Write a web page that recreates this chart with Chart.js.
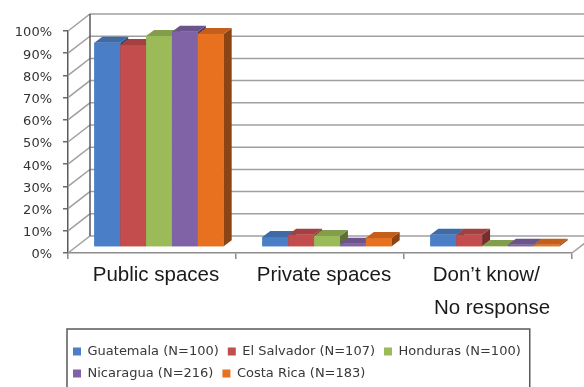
<!DOCTYPE html>
<html>
<head>
<meta charset="utf-8">
<title>Location of incidents by country</title>
<script src="https://cdn.jsdelivr.net/npm/chart.js@4.4.1/dist/chart.umd.min.js"></script>
<style>
  html, body { margin: 0; padding: 0; background: #fff; }
  canvas { display: block; }
</style>
</head>
<body>
<canvas id="chart" width="584" height="387"></canvas>
<script>
// trailing spaces keep the two lines of the last label flush left
const categories = ['Public spaces', 'Private spaces', ['Don\u2019t know/  ', 'No response']]
const countries = ['Guatemala (N=100)', 'El Salvador (N=107)', 'Honduras (N=100)', 'Nicaragua (N=216)', 'Costa Rica (N=183)']
const guatemala = [92, 4.5, 5.5]
const elSalvador = [91, 5.5, 5.5]
const honduras = [95, 5, 0.5]
const nicaragua = [97, 1.5, 1]
const costaRica = [96, 4, 1]
const colours = ['#4a7ec6', '#c34c4d', '#9bbb59', '#8063a6', '#e8711f']

// fake 3d: back wall sits behind the front plane, bars sit part way in
const WALL_DX = 22, WALL_DY = -17
const BAR_DX = 7, BAR_DY = -6
const DEPTH_DX = 8, DEPTH_DY = -6

function shade(hex, f) {
  let n = parseInt(hex.slice(1), 16)
  let r = Math.round((n >> 16) * f)
  let g = Math.round(((n >> 8) & 255) * f)
  let b = Math.round((n & 255) * f)
  return `rgb(${r}, ${g}, ${b})`
}

let depth3d = {
  id: 'depth3d',
  afterLayout(chart) {
    // legend lines up just right of the value axis
    chart.legend.left = chart.chartArea.left - 4
    chart.legend.top += 3
  },
  beforeDatasetsDraw(chart) {
    let {ctx, chartArea: a, scales: {y}} = chart
    ctx.save()
    ctx.lineWidth = 1.5
    ctx.strokeStyle = '#a0a0a0'
    for (let t of y.ticks) {
      let py = y.getPixelForValue(t.value)
      ctx.beginPath()
      ctx.moveTo(a.left, py)
      ctx.lineTo(a.left + WALL_DX, py + WALL_DY)
      ctx.lineTo(a.right + WALL_DX, py + WALL_DY)
      ctx.stroke()
    }
    // right edge of the floor
    ctx.beginPath()
    ctx.moveTo(a.right, a.bottom)
    ctx.lineTo(a.right + WALL_DX, a.bottom + WALL_DY)
    ctx.stroke()
    // back corner of the wall
    ctx.strokeStyle = '#5a5a5a'
    ctx.beginPath()
    ctx.moveTo(a.left + WALL_DX, a.top + WALL_DY)
    ctx.lineTo(a.left + WALL_DX, a.bottom + WALL_DY)
    ctx.stroke()
    ctx.restore()

    ctx.save()
    ctx.translate(BAR_DX, BAR_DY)
  },
  afterDatasetsDraw(chart) {
    let ctx = chart.ctx
    // paint left to right so each front face hides the side of the bar before it
    for (let i = 0; i < chart.data.labels.length; ++i) {
      chart.data.datasets.forEach((ds, d) => {
        let bar = chart.getDatasetMeta(d).data[i]
        let {x, y, base, width} = bar.getProps(['x', 'y', 'base', 'width'], true)
        let l = x - width / 2, r = x + width / 2
        ctx.fillStyle = shade(ds.backgroundColor, 0.6)
        ctx.beginPath()
        ctx.moveTo(r, base)
        ctx.lineTo(r + DEPTH_DX, base + DEPTH_DY)
        ctx.lineTo(r + DEPTH_DX, y + DEPTH_DY)
        ctx.lineTo(r, y)
        ctx.closePath()
        ctx.fill()
        ctx.fillStyle = shade(ds.backgroundColor, 0.84)
        ctx.beginPath()
        ctx.moveTo(l, y)
        ctx.lineTo(l + DEPTH_DX, y + DEPTH_DY)
        ctx.lineTo(r + DEPTH_DX, y + DEPTH_DY)
        ctx.lineTo(r, y)
        ctx.closePath()
        ctx.fill()
        ctx.fillStyle = ds.backgroundColor
        ctx.fillRect(l, y, width, base - y)
      })
    }
    ctx.restore()
  },
  afterDraw(chart) {
    // box round the legend
    let legend = chart.legend
    let boxes = legend.legendHitBoxes
    if (!boxes.length) return
    let left = boxes[0].left - 6
    let right = Math.max(...boxes.map(b => b.left + b.width)) + 9
    let ctx = chart.ctx
    ctx.save()
    ctx.strokeStyle = '#595959'
    ctx.lineWidth = 1.5
    ctx.strokeRect(left, legend.top - 7, right - left, 80)
    ctx.restore()
  },
}

let series = [guatemala, elSalvador, honduras, nicaragua, costaRica]
let datasets = series.map((values, i) => ({
  label: countries[i],
  data: values,
  backgroundColor: colours[i],
  borderWidth: 0,
}))

new Chart(document.getElementById('chart'), {
  type: 'bar',
  data: {labels: categories, datasets: datasets},
  plugins: [depth3d],
  options: {
    responsive: false,
    animation: false,
    events: [],
    datasets: {
      bar: {categoryPercentage: 0.77, barPercentage: 1, clip: false},
    },
    layout: {padding: {left: 0, right: 12, top: 31, bottom: 0}},
    plugins: {
      tooltip: {enabled: false},
      legend: {
        position: 'bottom',
        align: 'start',
        labels: {
          boxWidth: 8,
          boxHeight: 8,
          padding: 9,
          color: '#383838',
          font: {family: 'DejaVu Sans', size: 13},
        },
      },
    },
    scales: {
      x: {
        afterFit(scale) { scale.height = 80 },
        grid: {drawOnChartArea: false, offset: true, tickLength: 6, color: '#8c8c8c', lineWidth: 1.5},
        border: {color: '#8c8c8c', width: 1.5},
        ticks: {
          color: '#1a1a1a',
          padding: 0,
          labelOffset: 4,
          maxRotation: 0,
          font: {family: 'Liberation Sans', size: 20.5, lineHeight: 1.62},
        },
      },
      y: {
        min: 0,
        max: 100,
        afterFit(scale) { scale.width = 68 },
        grid: {drawOnChartArea: false, tickLength: 5, color: '#6a6a6a', lineWidth: 1.5},
        border: {color: '#5a5a5a', width: 1.5},
        ticks: {
          stepSize: 10,
          padding: 11,
          labelOffset: 2,
          color: '#333',
          font: {family: 'DejaVu Sans', size: 13},
          callback: v => v + '%',
        },
      },
    },
  },
})
</script>
</body>
</html>
